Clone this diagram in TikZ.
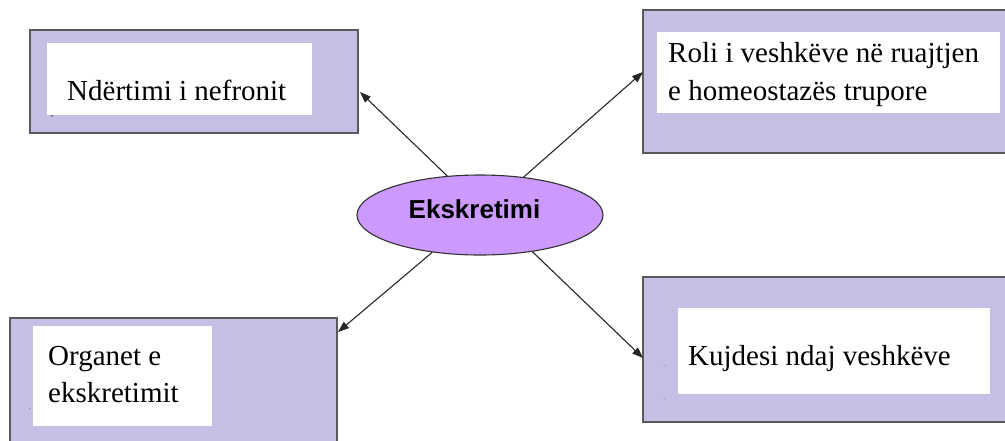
\documentclass[tikz,border=0pt]{standalone}
\usepackage{fontspec}
\setmainfont{Liberation Serif}
\newfontfamily\arialb{Liberation Sans}
\usetikzlibrary{arrows.meta,shapes.geometric}
\definecolor{boxfill}{HTML}{C6BEE5}
\definecolor{ellfill}{HTML}{CC99FF}
\definecolor{boxline}{HTML}{5A5A5A}
\begin{document}
\begin{tikzpicture}[x=1pt,y=-1pt,
  outerbox/.style={rectangle, draw=boxline, line width=1.6pt, fill=boxfill, inner sep=0pt},
  whitebox/.style={rectangle, fill=white, inner sep=0pt},
  boxtext/.style={anchor=base west, inner sep=0pt, font=\fontsize{29}{38}\selectfont},
  tick/.style={inner sep=0pt, font=\fontsize{9}{9}\selectfont},
  arr/.style={draw=black!85, line width=1.1pt, -{Triangle[length=11pt,width=8pt]}}]
\useasboundingbox (0,0) rectangle (1005,440);
% outer boxes
\node[outerbox, minimum width=328pt, minimum height=103pt] (b1) at (194,81.5) {};
\node[outerbox, minimum width=369pt, minimum height=143pt] (b2) at (827.5,81.5) {};
\node[outerbox, minimum width=327pt, minimum height=132pt] (b3) at (173.5,384) {};
\node[outerbox, minimum width=369pt, minimum height=145pt] (b4) at (827.5,349.5) {};
% white inner boxes
\node[whitebox, minimum width=265pt, minimum height=72pt] (w1) at (179.5,79) {};
\node[whitebox, minimum width=343pt, minimum height=81pt] (w2) at (828.5,72.5) {};
\node[whitebox, minimum width=179pt, minimum height=100pt] (w3) at (122.5,376) {};
\node[whitebox, minimum width=312pt, minimum height=86pt] (w4) at (834,351) {};
% texts
\node[boxtext] (t1) at (67,100) {Ndërtimi i nefronit};
\node[boxtext] (t2a) at (668,62) {Roli i veshkëve në ruajtjen};
\node[boxtext] (t2b) at (668,100) {e homeostazës trupore};
\node[boxtext] (t3a) at (48,365) {Organet e};
\node[boxtext] (t3b) at (48,402) {ekskretimit};
\node[boxtext] (t4) at (688,365) {Kujdesi ndaj veshkëve};
% small marks
\node[tick] (m1) at (52,117) {-};
\node[tick, text=black!60] (m3) at (30,409) {.};
\node[tick, text=black!40] (m4a) at (665,367) {-};
\node[tick, text=black!40] (m4b) at (665,400) {-};
% ellipse
\node[ellipse, draw=black!80, line width=1.1pt, fill=ellfill, minimum width=246pt, minimum height=80pt, inner sep=0pt] (e) at (480,215) {};
\node[anchor=base, inner sep=0pt, font=\arialb\bfseries\fontsize{26}{30}\selectfont] (et) at (474.5,218) {Ekskretimi};
% arrow tips
\coordinate (p1) at (360,92);
\coordinate (p2) at (643,72);
\coordinate (p3) at (338,332);
\coordinate (p4) at (643,358);
\draw[arr] (e.130) -- (p1);
\draw[arr] (e.41) -- (p2);
\draw[arr] (e.218) -- (p3);
\draw[arr] (e.325) -- (p4);
\end{tikzpicture}
\end{document}
